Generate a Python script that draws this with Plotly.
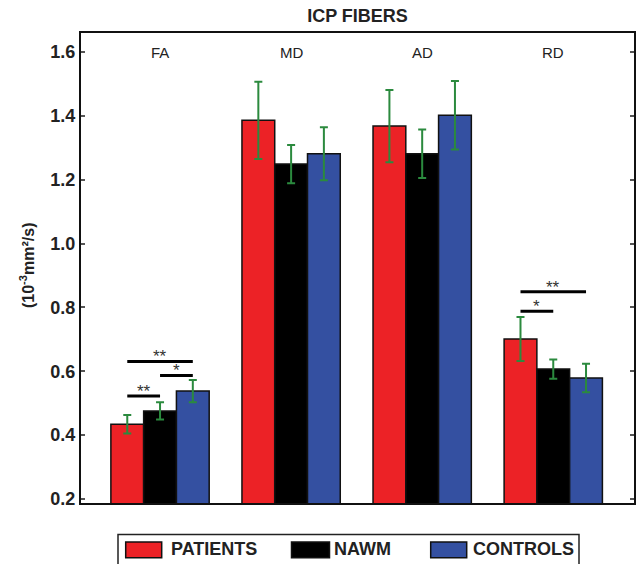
import plotly.graph_objects as go

# ---- data ----
categories = ["FA", "MD", "AD", "RD"]
series_names = ["PATIENTS", "NAWM", "CONTROLS"]
patients = [0.434, 1.386, 1.368, 0.701]
patients_err = [0.029, 0.121, 0.113, 0.069]
nawm = [0.476, 1.249, 1.281, 0.607]
nawm_err = [0.027, 0.060, 0.076, 0.030]
controls = [0.538, 1.281, 1.402, 0.579]
controls_err = [0.035, 0.083, 0.107, 0.045]
y_ticks = [0.2, 0.4, 0.6, 0.8, 1.0, 1.2, 1.4, 1.6]

# significance brackets: (category index, from series, to series, y level, label)
sig_cat = [0, 0, 0, 3, 3]
sig_from = [0, 1, 0, 0, 0]
sig_to = [1, 2, 2, 1, 2]
sig_y = [0.523, 0.587, 0.631, 0.788, 0.849]
sig_label = ["**", "*", "**", "*", "**"]

colors = ["#ec2226", "#000000", "#3450a1"]
err_color = "#2b8a3e"
FONT = "Liberation Sans, Arial, Helvetica, sans-serif"

W, H = 638, 564
L, R, T, B = 81, 634, 33, 503

def pxx(p):
    return (p - L) / (R - L)

def pxy(p):
    return (B - p) / (B - T)

x_idx = list(range(len(categories)))
values = [patients, nawm, controls]
errs = [patients_err, nawm_err, controls_err]

fig = go.Figure()
for name, vals, er, col in zip(series_names, values, errs, colors):
    fig.add_trace(go.Bar(
        x=x_idx, y=vals, name=name,
        marker=dict(color=col, line=dict(color="#111111", width=1.5)),
        error_y=dict(type="data", array=er, visible=True, color=err_color,
                     thickness=2, width=4),
        showlegend=False,
    ))

bar_w = 0.25
shapes = []
annotations = []
for c, f, t, y, lab in zip(sig_cat, sig_from, sig_to, sig_y, sig_label):
    x0 = c + (f - 1) * bar_w
    x1 = c + (t - 1) * bar_w
    shapes.append(dict(type="line", xref="x", yref="y", x0=x0, x1=x1, y0=y, y1=y,
                       line=dict(color="black", width=3)))
    annotations.append(dict(x=(x0 + x1) / 2, y=y, xref="x", yref="y", text=lab,
                            showarrow=False, yanchor="bottom", yshift=-7,
                            font=dict(family=FONT, size=17, color="#333333")))

# category labels at top inside plot
for i, c in zip(x_idx, categories):
    annotations.append(dict(x=i, y=1.6, xref="x", yref="y", text=c, showarrow=False,
                            yanchor="middle", font=dict(family=FONT, size=15, color="#222222")))

# y-axis title
annotations.append(dict(x=pxx(27), y=pxy(265), xref="paper", yref="paper",
                        text="(10<sup>-3</sup>mm²/s)", textangle=-90, showarrow=False,
                        xanchor="center", yanchor="middle",
                        font=dict(family=FONT, size=16, color="#222222", weight="bold")))

# custom legend
shapes.append(dict(type="rect", xref="paper", yref="paper",
                   x0=pxx(118), x1=pxx(579), y0=pxy(570), y1=pxy(534.5),
                   line=dict(color="#222222", width=1.5), fillcolor="white"))
sw_left = [125.7, 291.5, 430.7]
sw_right = [161.7, 329.5, 466.7]
txt_left = [169, 331.5, 471]
for name, col, a, b, tl in zip(series_names, colors, sw_left, sw_right, txt_left):
    shapes.append(dict(type="rect", xref="paper", yref="paper",
                       x0=pxx(a), x1=pxx(b), y0=pxy(557.7), y1=pxy(542),
                       line=dict(color="#111111", width=1.5), fillcolor=col))
    annotations.append(dict(x=pxx(tl), y=pxy(549), xref="paper", yref="paper",
                            text=name, showarrow=False, xanchor="left", yanchor="middle",
                            font=dict(family=FONT, size=18, color="#222222", weight="bold")))

fig.update_layout(
    width=W, height=H,
    margin=dict(l=L, r=W - R, t=T, b=H - B, autoexpand=False),
    paper_bgcolor="white", plot_bgcolor="white",
    barmode="group", bargap=0.25, bargroupgap=0,
    title=dict(text="<b>ICP FIBERS</b>", x=0.5, xref="paper", xanchor="center",
               y=1 - 16 / H, yanchor="middle",
               font=dict(family=FONT, size=18, color="#222222")),
    shapes=shapes, annotations=annotations,
    xaxis=dict(range=[-0.603, 3.616], showticklabels=False, ticks="",
               showgrid=False, zeroline=False, showline=True, mirror=True,
               linecolor="#111111", linewidth=2),
    yaxis=dict(range=[0.1875, 1.6595], tickvals=y_ticks, tickformat=".1f",
               ticks="inside", ticklen=4, tickwidth=1.5, tickcolor="#555555",
               showgrid=False, zeroline=False, showline=True, mirror="ticks",
               linecolor="#111111", linewidth=2,
               tickfont=dict(family=FONT, size=18, color="#222222", weight="bold")),
)

fig.write_html("out.html", config={"displayModeBar": False},
               post_script="document.body.style.margin='0';document.body.style.padding='0';document.body.style.overflow='hidden';")
